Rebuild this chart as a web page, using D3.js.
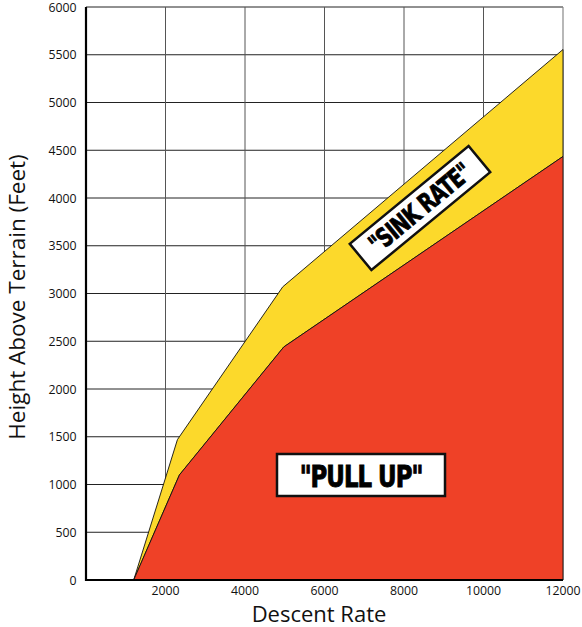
<!DOCTYPE html>
<html><head><meta charset="utf-8">
<script src="https://cdn.jsdelivr.net/npm/d3@7"></script>
<style>body{margin:0;background:#fff}svg{display:block}</style>
</head><body>
<svg id="c" width="582" height="627"></svg>
<script>
const xTicks = [2000, 4000, 6000, 8000, 10000, 12000];
const yTicks = [0, 500, 1000, 1500, 2000, 2500, 3000, 3500, 4000, 4500, 5000, 5500, 6000];
// Boundary of "SINK RATE" (caution) region: [descent rate, height]
const sinkRateX = [1200, 2300, 4950, 12000];
const sinkRateY = [0, 1470, 3070, 5555];
// Boundary of "PULL UP" (warning) region
const pullUpX = [1200, 2350, 4975, 12000];
const pullUpY = [0, 1100, 2440, 4435];
const labels = ['"SINK RATE"', '"PULL UP"'];

const svg = d3.select("#c");
const L = 86, R = 563, T = 7, B = 580;
const x = d3.scaleLinear().domain([0, 12000]).range([L, R]);
const y = d3.scaleLinear().domain([0, 6000]).range([B, T]);
const font = "'Open Sans', 'DejaVu Sans', sans-serif";
const heavy = "'DejaVu Sans Condensed', 'DejaVu Sans', sans-serif";

// grid
const g = svg.append("g");
g.selectAll(".hg").data(yTicks.filter(d => d > 0)).enter().append("line")
  .attr("x1", L).attr("x2", R).attr("y1", d => y(d)).attr("y2", d => y(d))
  .attr("stroke", "#222").attr("stroke-width", 1);
g.selectAll(".vg").data(xTicks.filter(d => d < 12000)).enter().append("line")
  .attr("x1", d => x(d)).attr("x2", d => x(d)).attr("y1", T).attr("y2", B)
  .attr("stroke", "#555").attr("stroke-width", 1);
g.append("line").attr("x1", R).attr("x2", R).attr("y1", T).attr("y2", B)
  .attr("stroke", "#888").attr("stroke-width", 1.2);

const pu = pullUpX.map((v, i) => [v, pullUpY[i]]);
const sr = sinkRateX.map((v, i) => [v, sinkRateY[i]]);
const line = d3.line().x(d => x(d[0])).y(d => y(d[1]));

const yellowPts = sr.concat(pu.slice().reverse());
svg.append("path").attr("d", line(yellowPts) + "Z")
  .attr("fill", "#FCD92B").attr("stroke", "#111").attr("stroke-width", 0.9).attr("stroke-linejoin", "round");
const redPts = pu.concat([[12000, 0]]);
svg.append("path").attr("d", line(redPts) + "Z")
  .attr("fill", "#EF4127").attr("stroke", "#111").attr("stroke-width", 0.9).attr("stroke-linejoin", "round");

// axes lines
svg.append("line").attr("x1", L).attr("x2", L).attr("y1", T).attr("y2", B + 1)
  .attr("stroke", "#000").attr("stroke-width", 2.2);
svg.append("line").attr("x1", L).attr("x2", R).attr("y1", B).attr("y2", B)
  .attr("stroke", "#000").attr("stroke-width", 2.2);

// tick labels
svg.selectAll(".yt").data(yTicks).enter().append("text")
  .attr("x", 76.5).attr("y", d => y(d) + 4.5).attr("text-anchor", "end")
  .attr("font-family", font).attr("font-size", 12.3).attr("fill", "#111").text(d => d);
svg.selectAll(".xt").data(xTicks).enter().append("text")
  .attr("x", d => x(d)).attr("y", 595).attr("text-anchor", "middle")
  .attr("font-family", font).attr("font-size", 12.3).attr("fill", "#111").text(d => d);

// axis titles
svg.append("text").attr("x", 319).attr("y", 622).attr("text-anchor", "middle")
  .attr("font-family", font).attr("font-size", 22).attr("fill", "#111").text("Descent Rate");
svg.append("text").attr("transform", "translate(25,297) rotate(-90)").attr("text-anchor", "middle")
  .attr("font-family", font).attr("font-size", 22.5).attr("fill", "#111").text("Height Above Terrain (Feet)");

// labels
const sg = svg.append("g").attr("transform", "translate(420,208) rotate(-39.5)");
sg.append("rect").attr("x", -77).attr("y", -17).attr("width", 154).attr("height", 34)
  .attr("fill", "#fff").attr("stroke", "#111").attr("stroke-width", 2.5);
sg.append("text").attr("transform", "translate(0,9) scale(0.82,1)").attr("text-anchor", "middle")
  .attr("font-family", heavy).attr("font-weight", "bold")
  .attr("font-size", 26).attr("letter-spacing", -1)
  .attr("stroke", "#000").attr("stroke-width", 0.8)
  .attr("fill", "#000").text(labels[0]);

const pg = svg.append("g").attr("transform", "translate(361,475)");
pg.append("rect").attr("x", -84).attr("y", -21).attr("width", 168).attr("height", 42)
  .attr("fill", "#fff").attr("stroke", "#111").attr("stroke-width", 2.5);
pg.append("text").attr("transform", "translate(0,11.5) scale(0.82,1)").attr("text-anchor", "middle")
  .attr("font-family", heavy).attr("font-weight", "bold")
  .attr("font-size", 31).attr("letter-spacing", -1.2)
  .attr("stroke", "#000").attr("stroke-width", 0.9)
  .attr("fill", "#000").text(labels[1]);
</script>
</body></html>
